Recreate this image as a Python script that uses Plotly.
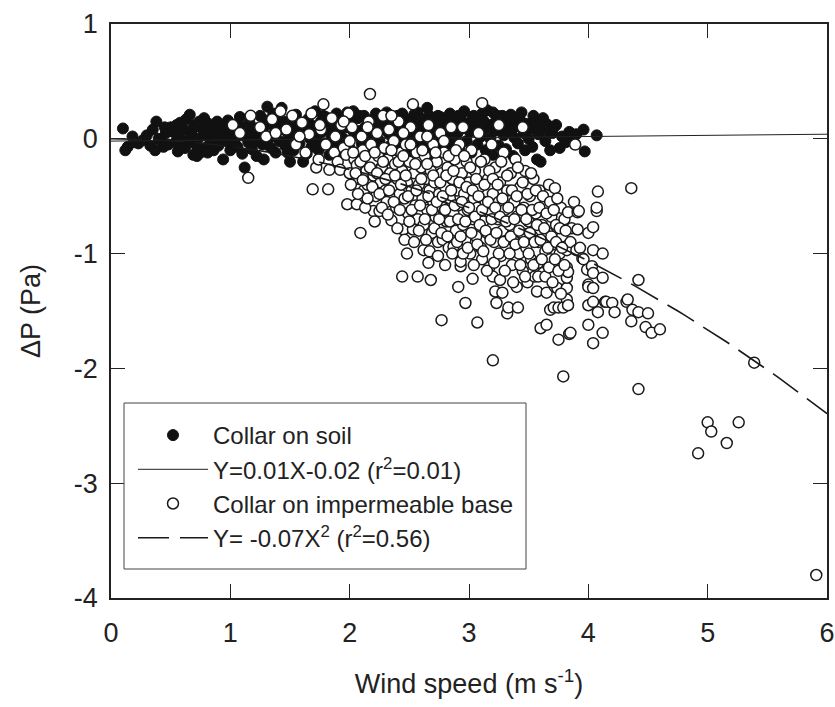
import numpy as np
import plotly.graph_objects as go

# ---- Collar on soil (filled) ----
soil_x = [0.1,0.12,0.14,0.18,0.2,0.23,0.27,0.3,0.33,0.35,0.37,0.38,0.4,0.42,0.44,0.46,0.48,
          0.5,0.52,0.54,0.56,0.57,0.58,0.6,0.61,0.63,0.64,0.66,0.67,0.69,0.7,0.71,0.72,0.73,0.75,0.76,0.78,0.79,0.8,0.82,0.83,0.85,0.86,0.88,0.89,
          0.9,0.92,0.94,0.95,0.97,0.98,1.0,1.01,1.03,1.05,1.06,1.08,1.09,1.1,1.12,1.13,1.15,1.16,1.18,1.19,1.21,1.22,1.24,1.25,1.27,1.28,1.29,
          1.31,1.32,1.34,1.35,1.37,1.38,1.4,1.41,1.43,1.44,1.46,1.47,1.49,1.5,1.52,1.53,1.55,1.56,1.58,1.59,1.61,1.62,1.64,1.65,1.67,1.68,1.7,
          1.71,1.73,1.74,1.76,1.77,1.79,1.8,1.82,1.83,1.85,1.86,1.88,1.89,1.91,1.92,1.94,1.95,1.97,1.98,2.0,2.01,2.03,2.04,2.06,2.07,2.09,
          2.1,2.12,2.13,2.15,2.16,2.18,2.19,2.21,2.22,2.24,2.25,2.27,2.28,2.3,2.31,2.33,2.34,2.36,2.37,2.39,2.4,2.42,2.43,2.45,2.46,2.48,
          2.5,2.51,2.53,2.54,2.56,2.57,2.59,2.6,2.62,2.63,2.65,2.66,2.68,2.69,2.71,2.72,2.74,2.75,2.76,2.78,2.79,2.81,2.82,2.84,2.85,2.87,2.88,
          2.9,2.92,2.93,2.95,2.96,2.98,2.99,3.01,3.02,3.04,3.05,3.07,3.08,3.1,3.11,3.13,3.14,3.15,3.17,3.18,3.2,3.2,3.22,3.23,3.25,3.26,3.28,
          3.29,3.31,3.32,3.34,3.35,3.37,3.37,3.38,3.4,3.41,3.43,3.44,3.46,3.47,3.49,3.5,3.52,3.53,3.55,3.57,3.58,3.6,3.61,3.62,3.64,3.66,3.68,
          3.7,3.73,3.76,3.78,3.81,3.84,3.87,3.9,3.96,3.97,4.07,
          0.45,0.55,0.62,0.68,0.74,0.81,0.87,0.93,0.99,1.04,1.11,1.17,1.23,1.3,1.36,1.42,1.48,1.54,1.6,1.66,1.72,1.78,1.84,1.9,1.96,
          2.02,2.08,2.14,2.2,2.26,2.32,2.38,2.44,2.49,2.55,2.61,2.67,2.73,2.8,2.86,2.91,2.97,3.03,3.09,3.12,3.19,3.24,3.3,3.36,3.42,
          3.48,3.54,3.59,3.65,3.71]
soil_y = [0.09,-0.1,-0.07,0.02,-0.03,-0.04,-0.01,0.03,-0.06,0.08,-0.1,0.15,0.0,-0.02,-0.07,0.05,-0.05,
          0.1,0.06,-0.03,-0.11,0.02,0.14,-0.06,0.08,0.17,-0.02,0.21,0.04,-0.14,0.12,-0.05,-0.15,0.0,-0.12,0.09,0.18,-0.08,0.03,0.13,-0.04,0.07,-0.1,0.01,0.15,
          -0.06,0.1,-0.18,0.04,-0.02,0.16,-0.1,0.07,0.0,0.12,-0.07,0.19,0.03,-0.13,-0.25,0.06,-0.03,0.14,-0.09,0.01,0.09,-0.15,0.04,0.2,-0.05,-0.18,0.11,
          0.28,0.0,-0.08,0.13,0.05,-0.12,0.18,-0.02,0.27,0.08,-0.06,0.15,0.02,-0.2,0.1,-0.1,0.21,0.04,-0.04,0.12,-0.2,0.07,-0.13,0.17,0.0,-0.07,0.11,
          0.24,0.03,-0.1,0.15,0.06,-0.04,0.19,0.09,-0.14,0.01,0.13,-0.06,0.22,0.05,-0.11,0.16,0.0,0.1,0.23,-0.08,0.14,0.24,0.03,-0.12,0.18,0.07,
          -0.04,0.2,0.1,-0.15,0.02,0.16,0.06,-0.09,0.22,0.12,-0.02,0.08,-0.14,0.17,0.23,0.04,-0.06,0.14,0.09,-0.1,0.2,0.01,0.11,-0.05,0.18,0.06,
          0.14,-0.12,0.03,0.21,0.09,0.23,-0.03,0.12,0.17,-0.08,0.27,0.05,0.15,-0.13,0.1,0.0,0.2,-0.06,0.19,0.08,-0.1,0.13,0.02,0.22,-0.04,0.11,0.16,
          0.04,-0.08,0.18,0.09,0.24,-0.02,0.13,0.06,-0.12,0.2,0.1,-0.05,0.15,0.02,0.22,0.08,-0.1,0.25,0.12,0.0,0.23,-0.14,0.07,0.17,-0.06,0.1,0.2,
          0.03,-0.09,0.14,0.06,0.21,0.19,-0.15,0.01,0.11,-0.04,0.16,0.23,0.05,-0.1,0.13,0.0,0.09,-0.07,0.15,-0.18,0.04,-0.2,0.1,0.18,-0.02,0.07,-0.1,
          0.05,0.12,-0.08,0.02,-0.03,0.06,-0.01,0.04,0.08,-0.11,0.03,
          0.1,0.12,-0.08,0.08,0.15,-0.12,0.08,0.02,0.08,-0.05,0.1,0.05,-0.02,0.16,0.22,0.1,-0.12,0.15,0.05,0.1,-0.05,0.2,0.1,-0.02,0.18,
          0.08,0.2,0.05,0.12,0.18,0.1,0.15,0.22,0.02,0.18,0.05,0.2,0.1,0.16,0.08,0.2,0.12,0.18,0.08,0.16,0.1,0.2,0.1,0.08,0.18,
          0.1,0.2,0.12,0.13,0.1]

# ---- Collar on impermeable base (open) ----
imp_x = [1.02,1.08,1.15,1.17,1.25,1.3,1.35,1.42,1.47,1.52,1.55,1.6,1.63,1.66,1.68,
         1.69,1.72,1.74,1.76,1.78,1.8,1.82,1.83,1.85,1.87,1.88,1.9,1.92,1.93,1.95,1.97,1.98,1.99,2.0,2.0,
         2.02,2.04,2.06,2.06,2.08,2.09,2.1,2.11,2.12,2.14,2.15,2.16,2.17,2.18,2.19,2.2,2.2,2.22,2.23,2.24,2.25,2.26,2.27,2.28,2.29,2.3,
         2.31,2.32,2.33,2.34,2.35,2.36,2.37,2.38,2.39,2.4,2.41,2.42,2.43,2.44,2.44,2.45,2.46,2.47,2.48,2.48,2.49,2.5,2.51,2.52,2.53,2.53,2.54,2.55,2.56,2.57,2.57,2.58,2.59,2.6,
         2.61,2.62,2.62,2.63,2.64,2.65,2.66,2.66,2.67,2.68,2.68,2.69,2.7,2.7,2.71,2.72,2.73,2.74,2.75,2.76,2.77,2.77,2.78,2.78,2.79,2.8,2.8,2.81,2.82,2.83,2.84,2.85,2.86,2.87,2.87,2.88,2.89,2.9,
         2.91,2.91,2.92,2.93,2.93,2.94,2.95,2.96,2.97,2.97,2.98,2.99,3.0,3.01,3.02,3.03,3.03,3.04,3.05,3.06,3.07,3.07,3.08,3.09,3.1,3.11,3.11,3.12,3.13,3.14,3.15,3.16,3.17,3.18,3.19,3.2,3.2,3.2,
         3.21,3.22,3.22,3.23,3.24,3.25,3.26,3.26,3.27,3.28,3.28,3.29,3.3,3.31,3.32,3.32,3.33,3.34,3.35,3.36,3.37,3.38,3.39,3.4,3.4,3.41,3.42,3.43,3.44,3.45,3.46,3.47,3.48,3.49,3.5,
         3.51,3.52,3.53,3.54,3.55,3.56,3.57,3.58,3.58,3.59,3.6,3.61,3.62,3.63,3.64,3.65,3.65,3.66,3.67,3.68,3.68,3.69,3.7,3.71,3.72,3.72,3.73,3.74,3.75,3.75,3.76,3.77,3.78,3.79,3.79,3.8,
         3.82,3.82,3.82,3.82,3.82,3.83,3.83,3.83,3.84,3.85,3.85,3.86,3.88,3.89,3.9,3.91,3.91,3.92,3.93,3.95,3.96,3.99,4.0,4.0,4.0,4.0,4.0,4.03,4.04,4.04,4.04,4.04,4.04,4.04,4.07,4.07,4.08,4.08,4.12,4.12,4.12,
         4.14,4.15,4.2,4.22,4.32,4.33,4.36,4.36,4.37,4.42,4.42,4.42,4.48,4.5,4.53,4.6,4.92,5.0,5.03,5.16,5.26,5.39,5.91,
         2.01,2.03,2.05,2.07,2.09,2.11,2.13,2.13,2.15,2.17,2.19,2.21,2.21,2.23,2.25,2.27,2.28,2.3,2.32,2.33,2.35,2.37,2.38,2.4,2.41,
         2.42,2.43,2.45,2.46,2.47,2.49,2.5,2.51,2.52,2.54,2.55,2.56,2.58,2.59,2.6,2.61,2.63,2.64,2.65,2.66,2.67,2.69,2.7,2.71,2.72,2.73,2.74,2.75,2.76,2.77,2.78,2.79,
         2.8,2.81,2.82,2.83,2.84,2.85,2.86,2.87,2.88,2.89,2.9,2.91,2.92,2.93,2.94,2.95,2.96,2.97,2.98,2.99,3.0,3.01,3.02,3.03,3.04,3.05,3.06,3.07,3.08,3.09,3.1,3.11,3.12,3.13,3.14,3.15,3.16,3.17,3.18,3.19,
         3.2,3.21,3.22,3.23,3.24,3.25,3.26,3.27,3.28,3.29,3.3,3.31,3.32,3.33,3.34,3.35,3.36,3.37,3.38,3.39,3.4,3.41,3.42,3.43,3.44,3.45,3.46,3.47,3.48,3.49,3.5,3.51,3.52,3.53,3.54,3.55,3.56,3.57,3.58,3.59,
         3.6,3.61,3.62,3.63,3.64,3.65,3.66,3.67,3.68,3.69,3.7,3.71,3.72,3.73,3.74,3.75,3.76,3.77,3.78,3.8,3.81,
         1.38,1.58,1.75,1.95,2.15,2.35,2.45,2.65,2.95,3.25,3.45]
imp_y = [0.12,0.05,-0.34,0.2,0.1,0.02,0.17,0.24,0.08,0.2,-0.05,0.14,-0.12,0.04,0.22,
         -0.44,-0.25,-0.18,0.08,0.3,-0.05,-0.44,-0.27,0.18,-0.12,0.02,-0.2,-0.27,0.12,-0.08,-0.14,-0.57,0.22,-0.3,-0.02,
         0.1,-0.18,-0.57,-0.23,-0.35,-0.82,0.02,-0.1,-0.45,-0.28,-0.4,0.15,0.39,-0.05,-0.2,-0.63,-0.32,-0.5,0.05,-0.15,-0.63,-0.38,-0.25,0.2,-0.08,-0.45,
         -0.55,-0.18,0.08,-0.3,-0.71,-0.42,-0.02,-0.22,-0.6,-0.35,0.15,-0.48,-0.12,-1.2,-0.28,-0.79,-0.52,-0.05,-1.0,-0.38,-0.65,-0.2,0.1,-0.45,-0.79,0.3,-0.3,-0.58,-0.12,-1.2,-0.7,-0.4,0.02,-0.25,
         -0.52,-0.97,-0.75,-0.15,-0.35,-0.62,-1.08,0.12,-0.45,-1.23,-0.28,-0.82,-0.05,-0.55,-0.38,-0.68,-0.2,-0.9,-0.48,0.05,-1.58,-0.3,-0.88,-0.6,-0.12,-1.1,-0.42,-0.72,-0.25,-0.95,-0.52,0.1,-0.35,-0.94,-0.65,-0.18,-0.8,-0.45,
         -1.29,-0.58,-0.05,-1.11,-1.07,-0.3,-0.75,-0.48,-1.43,-0.88,-0.2,-0.62,-0.38,-1.0,-0.1,-1.22,-0.7,-0.52,-0.28,-0.85,-1.6,-0.6,0.05,-0.42,-0.95,-1.05,0.31,-0.72,-0.18,-0.55,-0.82,-0.35,-1.12,-0.65,-0.05,-1.93,-1.2,-0.48,
         -0.9,-1.33,-0.25,-1.43,-0.7,-0.55,-1.23,-0.38,-1.02,-1.34,-0.8,-0.12,-0.62,-0.95,-1.52,-0.45,-1.47,-0.75,-0.3,-1.1,-0.88,-0.55,-0.18,-1.29,-0.68,-1.47,-1.0,-0.42,-0.82,-1.15,-0.6,-0.28,-0.95,-1.25,-0.72,
         -0.5,-1.05,-0.85,-0.35,-1.2,-0.65,-1.33,-1.08,-0.9,-0.45,-1.65,-0.75,-1.17,-0.58,-0.98,-1.34,-1.62,-0.82,-0.4,-1.05,-1.49,-0.68,-0.92,-1.47,-0.43,-1.29,-0.75,-1.3,-1.75,-1.47,-1.0,-0.6,-0.85,-2.07,-1.47,-0.7,
         -1.4,-1.3,-1.21,-1.12,-0.97,-1.45,-1.16,-0.64,-1.7,-0.9,-1.69,-0.78,-0.55,-0.05,-0.97,-0.64,-0.79,-0.63,-0.95,-1.04,-1.05,-1.14,-0.82,-1.27,-1.45,-1.62,-1.29,-1.11,-1.78,-1.42,-1.3,-0.97,-0.77,-1.17,-0.63,-0.6,-0.46,-1.51,-1.0,-1.21,-1.69,
         -1.42,-1.42,-1.43,-1.51,-1.42,-1.4,-1.59,-0.43,-1.49,-1.51,-1.23,-2.18,-1.64,-1.52,-1.69,-1.66,-2.74,-2.47,-2.55,-2.65,-2.47,-1.95,-3.8,
         -0.4,-0.12,-0.3,-0.48,-0.2,-0.36,-0.6,-0.15,-0.52,-0.25,-0.42,-0.12,-0.72,-0.3,-0.48,-0.6,-0.2,-0.35,-0.66,-0.45,-0.1,-0.55,-0.32,-0.78,-0.2,
         -0.62,-0.4,-0.15,-0.88,-0.32,-0.5,-0.72,-0.05,-0.62,-0.9,-0.22,-0.45,-0.8,-0.58,-0.35,-0.1,-0.7,-0.88,-0.22,-0.5,-0.98,-0.62,-0.32,-0.78,-0.12,-0.55,-1.02,-0.7,-0.38,-0.82,-0.5,-0.02,
         -0.62,-0.32,-0.85,-0.15,-0.72,-0.45,-1.0,-0.28,-0.58,-0.1,-0.9,-0.7,-0.38,-0.85,-0.55,-1.0,-0.15,-0.72,-0.42,-0.95,-0.6,-0.25,-0.82,-0.45,-1.1,-0.68,-0.35,-0.92,-0.5,-0.75,-0.2,-0.62,-0.98,-0.4,-0.8,-1.15,-0.55,-0.28,-0.88,-0.7,
         -0.35,-1.08,-0.6,-0.82,-0.4,-1.0,-0.68,-0.2,-0.52,-0.9,-1.15,-0.72,-0.32,-0.6,-1.0,-0.85,-0.45,-1.25,-0.7,-0.92,-0.5,-0.25,-0.8,-1.1,-0.62,-0.38,-0.9,-1.2,-0.7,-0.48,-1.0,-0.82,-0.3,-0.62,-1.1,-0.9,-0.45,-0.75,-1.2,-0.6,
         -0.88,-1.05,-0.5,-0.78,-1.2,-0.65,-0.95,-1.12,-0.55,-0.85,-1.25,-0.62,-1.05,-0.9,-0.52,-1.15,-0.78,-1.35,-0.95,-1.1,-0.8,
         0.05,0.02,0.12,0.15,0.1,0.2,0.05,0.02,0.1,0.12,0.1]

# ---- fitted regressions ----
soil_slope, soil_intercept = 0.01, -0.02
imp_quad = -0.0665
fit_x = np.linspace(0, 6, 121)

x_ticks = [0, 1, 2, 3, 4, 5, 6]
x_ticklabels = ["0", "1", "2", "3", "4", "5", "6"]
y_ticks = [1, 0, -1, -2, -3, -4]
y_ticklabels = ["1", "0", "-1", "-2", "-3", "-4"]

FONT = "Liberation Sans, Arial, sans-serif"
INK = "#222222"

# plot-area pixel geometry (for placing the legend frame and y title)
L, R, T, B = 111, 8, 24, 109
W, H = 835, 707
PW, PH = W - L - R, H - T - B


def px_x(px):
    return (px - L) / PW


def px_y(py):
    return (H - B - py) / PH


fig = go.Figure()
fig.add_trace(go.Scatter(
    x=soil_x, y=soil_y, mode="markers", name="Collar on soil",
    marker=dict(symbol="circle", size=11, color="#111111", line=dict(color="#111111", width=1))))
fig.add_trace(go.Scatter(
    x=fit_x, y=soil_slope * fit_x + soil_intercept, mode="lines",
    name="Y=0.01X-0.02 (r<sup>2</sup>=0.01)",
    line=dict(color=INK, width=1)))
fig.add_trace(go.Scatter(
    x=imp_x, y=imp_y, mode="markers", name="Collar on impermeable base",
    marker=dict(symbol="circle", size=11, color="white", line=dict(color="#1a1a1a", width=1.5))))
fig.add_trace(go.Scatter(
    x=fit_x, y=imp_quad * fit_x ** 2, mode="lines",
    name="Y= -0.07X<sup>2</sup> (r<sup>2</sup>=0.56)",
    line=dict(color="#1a1a1a", width=1.6, dash="31px,11px")))

axis_common = dict(
    showline=True, linecolor=INK, linewidth=1.5, mirror="allticks",
    ticks="inside", ticklen=14, tickwidth=1.2, tickcolor=INK,
    showgrid=False, zeroline=False, automargin=False,
    tickfont=dict(family=FONT, size=27, color=INK),
)

fig.update_layout(
    width=W, height=H,
    margin=dict(l=L, r=R, t=T, b=B),
    paper_bgcolor="white", plot_bgcolor="white",
    font=dict(family=FONT, color=INK),
    xaxis=dict(range=[0, 6], tickvals=x_ticks, ticktext=x_ticklabels,
               ticklabelstandoff=10,
               title=dict(text="Wind speed (m s<sup>-1</sup>)", font=dict(family=FONT, size=27), standoff=27),
               **axis_common),
    yaxis=dict(range=[-4, 1], tickvals=y_ticks, ticktext=y_ticklabels,
               ticklabelstandoff=6,
               **axis_common),
    annotations=[dict(text="ΔP (Pa)", xref="paper", yref="paper",
                      x=px_x(31), y=0.5, xanchor="center", yanchor="middle",
                      textangle=-90, showarrow=False,
                      font=dict(family=FONT, size=27, color=INK))],
    legend=dict(
        x=px_x(133), y=px_y(560), xanchor="left", yanchor="bottom",
        bgcolor="rgba(0,0,0,0)", borderwidth=0,
        font=dict(family=FONT, size=24, color=INK),
        itemwidth=70, tracegroupgap=0,
    ),
    shapes=[dict(type="rect", xref="paper", yref="paper",
                 x0=px_x(124), x1=px_x(526), y0=px_y(569), y1=px_y(403),
                 line=dict(color="#444444", width=1), fillcolor="white", layer="above")],
    showlegend=True,
)

fig.write_html("out.html", config={"displayModeBar": False},
               post_script="document.body.style.margin='0px';")
